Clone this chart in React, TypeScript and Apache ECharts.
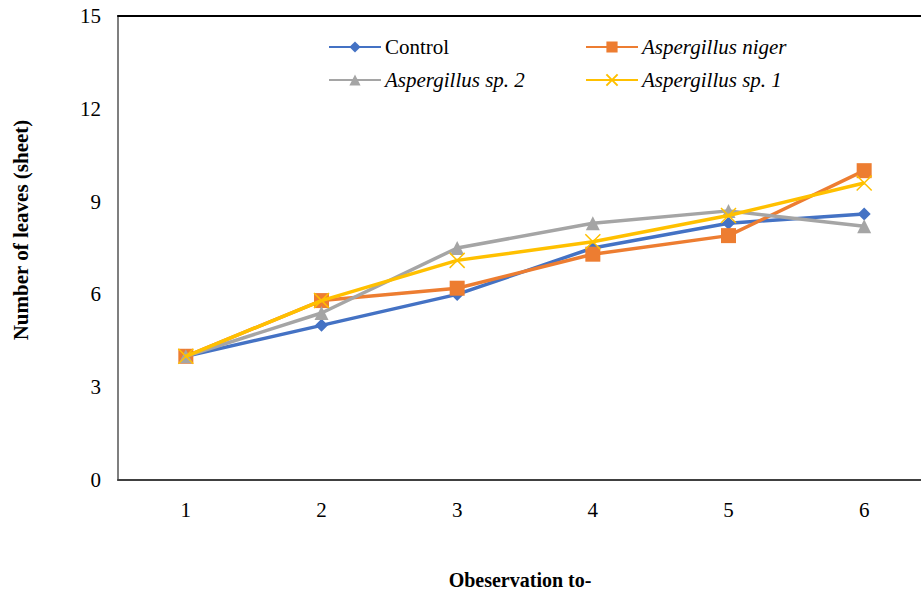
import React, { useEffect, useRef } from "react";
import * as echarts from "echarts";

const categories = ["1", "2", "3", "4", "5", "6"];
const control = [4, 5, 6, 7.5, 8.3, 8.6];
const niger = [4, 5.8, 6.2, 7.3, 7.9, 10];
const sp2 = [4, 5.4, 7.5, 8.3, 8.7, 8.2];
const sp1 = [4, 5.8, 7.1, 7.7, 8.55, 9.6];
const seriesNames = ["Control", "Aspergillus niger", "Aspergillus sp. 2", "Aspergillus sp. 1"];
const colors = ["#4472C4", "#ED7D31", "#A5A5A5", "#FFC000"];
const symbols = ["diamond", "rect", "triangle", "x"];
const xTitle = "Obeservation to-";
const yTitle = "Number of leaves (sheet)";

const FONT = "Liberation Serif";
const LEGEND_FONT = "'Times New Roman', 'Liberation Serif', Times, serif";

export default function App() {
  const ref = useRef<HTMLDivElement>(null);
  useEffect(() => {
    document.body.style.margin = "0";
    if (!ref.current) return;
    const chart = echarts.init(ref.current, null, { renderer: "svg" });
    const data = [control, niger, sp2, sp1];
    const xPath = "path://M0,0L10,10M10,0L0,10";
    const syms = symbols.map((s) => (s === "x" ? xPath : s));
    const sizes = [13, 15, 14, 15];
    const legendPos = [
      { left: 328, top: 40 },
      { left: 585, top: 40 },
      { left: 328, top: 73 },
      { left: 585, top: 73 },
    ];
    const legendTextPos = [
      { x: 385, y: 47 },
      { x: 642, y: 47 },
      { x: 385, y: 80 },
      { x: 642, y: 80 },
    ];
    chart.setOption({
      animation: false,
      backgroundColor: "#fff",
      textStyle: { fontFamily: FONT },
      grid: {
        left: 118,
        top: 16,
        width: 814,
        bottom: 112,
        outerBoundsMode: "none",
        containLabel: false,
        show: false,
      },
      legend: seriesNames.map((n, i) => ({
        data: [n],
        left: legendPos[i].left,
        top: legendPos[i].top,
        padding: 0,
        itemWidth: 52,
        itemHeight: 14,
        itemGap: 0,
        formatter: () => "",
        textStyle: { fontSize: 1, padding: 0 },
      })),
      xAxis: [
        {
          type: "category",
          data: categories,
          boundaryGap: true,
          axisLine: { lineStyle: { color: "#404040", width: 2 } },
          axisTick: { show: false },
          axisLabel: { fontFamily: FONT, fontSize: 21, color: "#000", margin: 19 },
          splitLine: { show: false },
        },
        {
          type: "category",
          data: categories,
          position: "top",
          boundaryGap: true,
          axisLine: { lineStyle: { color: "#000", width: 2 } },
          axisTick: { show: false },
          axisLabel: { show: false },
          splitLine: { show: false },
        },
      ],
      yAxis: {
        type: "value",
        min: 0,
        max: 15,
        interval: 3,
        axisLine: { show: true, lineStyle: { color: "#7f7f7f", width: 2 } },
        axisTick: { show: false },
        axisLabel: { fontFamily: FONT, fontSize: 21, color: "#000", margin: 17 },
        splitLine: { show: false },
      },
      series: seriesNames.map((n, i) => ({
        name: n,
        type: "line",
        data: data[i],
        symbol: syms[i],
        symbolSize: sizes[i],
        showAllSymbol: true,
        lineStyle: { color: colors[i], width: 3.5 },
        itemStyle:
          symbols[i] === "x"
            ? { color: colors[i], borderColor: colors[i], borderWidth: 1.5 }
            : { color: colors[i], borderWidth: 0 },
        emphasis: { disabled: true },
        z: 2 + i,
      })),
      graphic: [
        ...seriesNames.map((n, i) => ({
          type: "text",
          x: legendTextPos[i].x,
          y: legendTextPos[i].y,
          style: {
            text: n,
            x: 0,
            y: 0,
            align: "left",
            verticalAlign: "middle",
            fontFamily: LEGEND_FONT,
            fontSize: 21,
            fontStyle: i === 0 ? "normal" : "italic",
            fontWeight: "normal",
            fill: "#000",
          },
        })),
        {
          type: "text",
          x: 520,
          y: 580,
          style: {
            text: xTitle,
            x: 0,
            y: 0,
            align: "center",
            verticalAlign: "middle",
            fontFamily: FONT,
            fontSize: 20,
            fontWeight: "bold",
            fill: "#000",
          },
        },
        {
          type: "text",
          x: 21,
          y: 230,
          rotation: Math.PI / 2,
          style: {
            text: yTitle,
            x: 0,
            y: 0,
            align: "center",
            verticalAlign: "middle",
            fontFamily: FONT,
            fontSize: 21,
            fontWeight: "bold",
            fill: "#000",
          },
        },
      ],
    });
    return () => chart.dispose();
  }, []);
  return <div ref={ref} style={{ width: 921, height: 592 }} />;
}
